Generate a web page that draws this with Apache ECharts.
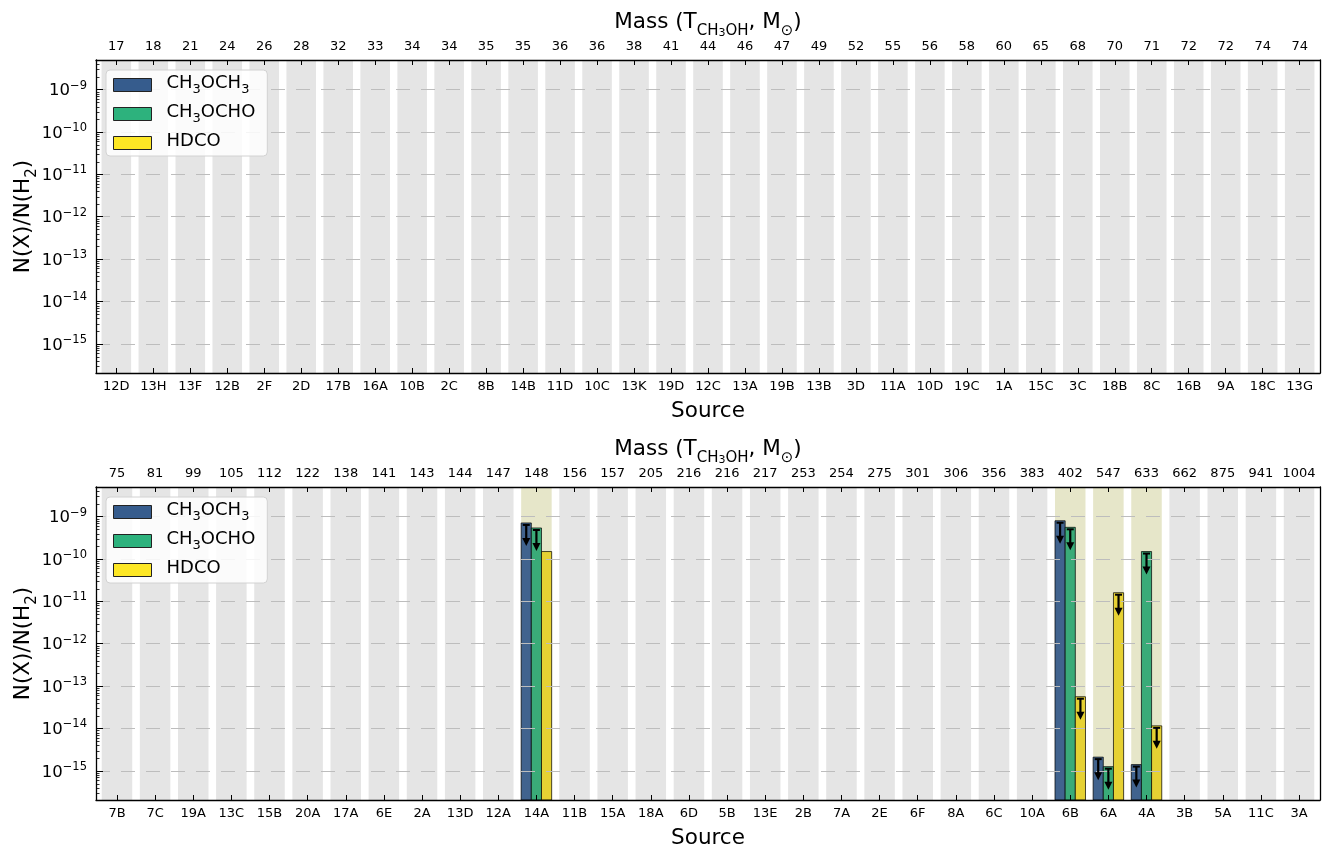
<!DOCTYPE html>
<html><head><meta charset="utf-8">
<script src="https://cdn.jsdelivr.net/npm/echarts@6/dist/echarts.min.js"></script>
<style>html,body{margin:0;padding:0;background:#fff}#c{width:1326px;height:848px}</style>
</head><body><div id="c"></div>
<script>
// ---------- data ----------
const sourcesTop = ['12D','13H','13F','12B','2F','2D','17B','16A','10B','2C','8B','14B','11D','10C','13K','19D','12C','13A','19B','13B','3D','11A','10D','19C','1A','15C','3C','18B','8C','16B','9A','18C','13G'];
const massTop = [17,18,21,24,26,28,32,33,34,34,35,35,36,36,38,41,44,46,47,49,52,55,56,58,60,65,68,70,71,72,72,74,74];
const sourcesBottom = ['7B','7C','19A','13C','15B','20A','17A','6E','2A','13D','12A','14A','11B','15A','18A','6D','5B','13E','2B','7A','2E','6F','8A','6C','10A','6B','6A','4A','3B','5A','11C','3A'];
const massBottom = [75,81,99,105,112,122,138,141,143,144,147,148,156,157,205,216,216,217,253,254,275,301,306,356,383,402,547,633,662,875,941,1004];

// top panel: no values
const ch3och3Top = [null,null,null,null,null,null,null,null,null,null,null,null,null,null,null,null,null,null,null,null,null,null,null,null,null,null,null,null,null,null,null,null,null];
const ch3ochoTop = [null,null,null,null,null,null,null,null,null,null,null,null,null,null,null,null,null,null,null,null,null,null,null,null,null,null,null,null,null,null,null,null,null];
const hdcoTop    = [null,null,null,null,null,null,null,null,null,null,null,null,null,null,null,null,null,null,null,null,null,null,null,null,null,null,null,null,null,null,null,null,null];

// bottom panel (N(X)/N(H2))
const ch3och3Bottom = [null,null,null,null,null,null,null,null,null,null,null,7.1e-10,null,null,null,null,null,null,null,null,null,null,null,null,null,8.0e-10,2.1e-15,1.4e-15,null,null,null,null];
const ch3ochoBottom = [null,null,null,null,null,null,null,null,null,null,null,5.4e-10,null,null,null,null,null,null,null,null,null,null,null,null,null,5.6e-10,1.25e-15,1.5e-10,null,null,null,null];
const hdcoBottom    = [null,null,null,null,null,null,null,null,null,null,null,1.5e-10,null,null,null,null,null,null,null,null,null,null,null,null,null,5.6e-14,1.6e-11,1.15e-14,null,null,null,null];
// upper limits (1 = upper limit arrow)
const ch3och3UpperBottom = [0,0,0,0,0,0,0,0,0,0,0,1,0,0,0,0,0,0,0,0,0,0,0,0,0,1,1,1,0,0,0,0];
const ch3ochoUpperBottom = [0,0,0,0,0,0,0,0,0,0,0,1,0,0,0,0,0,0,0,0,0,0,0,0,0,1,1,1,0,0,0,0];
const hdcoUpperBottom    = [0,0,0,0,0,0,0,0,0,0,0,0,0,0,0,0,0,0,0,0,0,0,0,0,0,1,1,1,0,0,0,0];

const speciesNames = ['CH3OCH3','CH3OCHO','HDCO'];
const yTickExponents = [-15,-14,-13,-12,-11,-10,-9];

// ---------- style ----------
const FONT = 'DejaVu Sans';
const legendColors = ['#365c8d','#2db27d','#fde725'];
const barColors = ['#41638e','#3aab78','#e6d133'];
const Y_MIN = -15.69, Y_MAX = -8.30;

const chart = echarts.init(document.getElementById('c'), null, {renderer:'canvas'});

const panels = [
  {names: sourcesTop, mass: massTop, vals:[ch3och3Top, ch3ochoTop, hdcoTop], up:[null,null,null], top:60},
  {names: sourcesBottom, mass: massBottom, vals:[ch3och3Bottom, ch3ochoBottom, hdcoBottom], up:[ch3och3UpperBottom, ch3ochoUpperBottom, hdcoUpperBottom], top:487}
];

function isInt(v){ return Math.abs(v - Math.round(v)) < 1e-6; }

const grids = [], xAxes = [], yAxes = [], series = [], legends = [];

const legendRich = {
  'CH3OCH3': '{g| }{n|CH}{s|3}{n|OCH}{s|3}',
  'CH3OCHO': '{g| }{n|CH}{s|3}{n|OCHO}',
  'HDCO': '{g| }{n|HDCO}'
};

panels.forEach((p, g) => {
  const n = p.names.length;
  grids.push({left:96, top:p.top, width:1224, height:313, containLabel:false, outerBoundsMode:'none'});
  const xmin = -0.55, xmax = n - 1 + 0.55;
  xAxes.push({
    type:'value', gridIndex:g, position:'bottom', min:xmin, max:xmax,
    splitNumber:n, minInterval:1, maxInterval:1, z:3,
    axisLine:{show:true, onZero:false, lineStyle:{color:'#000', width:1.3}},
    axisTick:{show:true, inside:true, length:5, lineStyle:{color:'#000', width:1}},
    axisLabel:{color:'#000', fontFamily:FONT, fontSize:13, margin:7, showMinLabel:true, showMaxLabel:true,
      formatter:(v)=> (isInt(v) && v>=0 && v<n) ? p.names[Math.round(v)] : ''},
    splitLine:{show:false},
    name:'Source', nameLocation:'middle', nameGap:27,
    nameTextStyle:{color:'#000', fontFamily:FONT, fontSize:21.5}
  });
  xAxes.push({
    type:'value', gridIndex:g, position:'top', min:xmin, max:xmax,
    splitNumber:n, minInterval:1, maxInterval:1, z:3,
    axisLine:{show:true, onZero:false, lineStyle:{color:'#000', width:1.3}},
    axisTick:{show:true, inside:true, length:5, lineStyle:{color:'#000', width:1}},
    axisLabel:{color:'#000', fontFamily:FONT, fontSize:13, margin:7,
      formatter:(v)=> (isInt(v) && v>=0 && v<n) ? String(p.mass[Math.round(v)]) : ''},
    splitLine:{show:false},
    name:'{t|Mass (T}{s|CH}{ss|3}{s|OH}{t|, M}{s|⊙}{t|)}', nameLocation:'middle', nameGap:21,
    nameTextStyle:{color:'#000', fontFamily:FONT, fontSize:21.5,
      rich:{
        t:{fontFamily:FONT, fontSize:21.5, lineHeight:28, verticalAlign:'top', color:'#000'},
        s:{fontFamily:FONT, fontSize:15, lineHeight:10, verticalAlign:'bottom', color:'#000'},
        ss:{fontFamily:FONT, fontSize:11, lineHeight:1, verticalAlign:'bottom', color:'#000'}
      }}
  });
  yAxes.push({
    type:'value', gridIndex:g, position:'left', min:Y_MIN, max:Y_MAX,
    splitNumber:7, minInterval:1, maxInterval:1, z:3,
    axisLine:{show:true, onZero:false, lineStyle:{color:'#000', width:1.3}},
    axisTick:{show:true, inside:true, length:7, lineStyle:{color:'#000', width:1}},
    axisLabel:{margin:9, color:'#000',
      formatter:(v)=> (isInt(v) && yTickExponents.indexOf(Math.round(v))>=0) ? '{b|10}{p|−'+(-Math.round(v))+'}' : '',
      rich:{
        b:{fontFamily:FONT, fontSize:16.5, lineHeight:20, verticalAlign:'bottom', color:'#000'},
        p:{fontFamily:FONT, fontSize:11.5, lineHeight:9, verticalAlign:'top', color:'#000'}
      }},
    splitLine:{show:true, showMinLine:false, showMaxLine:false, lineStyle:{color:'#bdbdbd', width:1, type:[14,11]}},
    name:'{t|N(X)/N(H}{s|2}{t|)}', nameLocation:'middle', nameGap:56, nameMoveOverlap:false,
    nameTextStyle:{color:'#000', fontFamily:FONT, fontSize:21.5,
      rich:{
        t:{fontFamily:FONT, fontSize:21.5, lineHeight:28, verticalAlign:'top', color:'#000'},
        s:{fontFamily:FONT, fontSize:15, lineHeight:10, verticalAlign:'bottom', color:'#000'}
      }}
  });
  yAxes.push({
    type:'value', gridIndex:g, position:'right', min:Y_MIN, max:Y_MAX, z:3,
    axisLine:{show:true, onZero:false, lineStyle:{color:'#000', width:1.3}},
    axisTick:{show:false}, axisLabel:{show:false}, splitLine:{show:false}
  });
  const xi = 2*g, yi = 2*g;

  // background bands
  const bandData = p.names.map((_, i) => [i, (p.vals[0][i]!=null || p.vals[1][i]!=null || p.vals[2][i]!=null) ? 1 : 0]);
  series.push({
    type:'custom', name:'bands'+g, xAxisIndex:xi, yAxisIndex:yi, z:1, silent:true,
    data: bandData,
    renderItem:(params, api) => {
      const cs = params.coordSys;
      const cx = api.coord([api.value(0), -12])[0];
      const w = api.size([0.8, 0])[0];
      return {type:'rect', shape:{x:cx - w/2, y:cs.y, width:w, height:cs.height},
        style:{fill: api.value(1) ? '#e6e6c9' : '#e5e5e5'}};
    }
  });

  // bars
  p.vals.forEach((vals, k) => {
    const data = [];
    vals.forEach((v, i) => { if (v != null) data.push([i, Math.log10(v)]); });
    series.push({
      type:'custom', name:speciesNames[k], xAxisIndex:xi, yAxisIndex:yi, z:2,
      itemStyle:{color:legendColors[k]},
      data: data,
      renderItem:(params, api) => {
        const cs = params.coordSys;
        const c = api.coord([api.value(0), api.value(1)]);
        const bw = api.size([0.8/3, 0])[0];
        const x = c[0] + (k-1)*bw - bw/2;
        const bottom = cs.y + cs.height;
        return {type:'rect', shape:{x:x, y:c[1], width:bw, height:bottom - c[1]},
          style:{fill:barColors[k], stroke:'rgba(0,0,0,0.7)', lineWidth:1}};
      }
    });
  });

  // upper-limit arrows
  const arrowData = [];
  p.vals.forEach((vals, k) => {
    if (!p.up[k]) return;
    vals.forEach((v, i) => { if (v != null && p.up[k][i]) arrowData.push([i, Math.log10(v), k]); });
  });
  series.push({
    type:'custom', name:'arrows'+g, xAxisIndex:xi, yAxisIndex:yi, z:4, silent:true,
    data: arrowData,
    renderItem:(params, api) => {
      const k = api.value(2);
      const c = api.coord([api.value(0), api.value(1)]);
      const bw = api.size([0.8/3, 0])[0];
      const x = c[0] + (k-1)*bw;
      const y0 = c[1] + 2;
      return {type:'group', children:[
        {type:'line', shape:{x1:x-3.5, y1:y0, x2:x+3.5, y2:y0}, style:{stroke:'#000', lineWidth:2}},
        {type:'line', shape:{x1:x, y1:y0, x2:x, y2:y0+15}, style:{stroke:'#000', lineWidth:2.2}},
        {type:'polygon', shape:{points:[[x-4, y0+13],[x+4, y0+13],[x, y0+21]]}, style:{fill:'#000'}}
      ]};
    }
  });

  // log minor ticks on the left axis
  const minor = [];
  for (let d = -16; d <= -9; d++) {
    for (let m = 2; m <= 9; m++) {
      const lv = d + Math.log10(m);
      if (lv > Y_MIN && lv < Y_MAX) minor.push([0, lv]);
    }
  }
  series.push({
    type:'custom', name:'minor'+g, xAxisIndex:xi, yAxisIndex:yi, z:4, silent:true,
    data: minor,
    renderItem:(params, api) => {
      const cs = params.coordSys;
      const y = Math.round(api.coord([0, api.value(1)])[1]) + 0.5;
      return {type:'line', shape:{x1:cs.x, y1:y, x2:cs.x + 3.5, y2:y}, style:{stroke:'#000', lineWidth:0.8}};
    }
  });

  legends.push({
    left:106, top:p.top + 10, orient:'vertical', selectedMode:false, z:6,
    data: speciesNames.map((nm, k) => ({name:nm, icon:'rect',
      itemStyle:{color:legendColors[k], borderColor:'#222', borderWidth:1}})),
    formatter:(nm) => legendRich[nm],
    itemWidth:38, itemHeight:13, itemGap:7,
    padding:[4,12,5,7],
    backgroundColor:'rgba(255,255,255,0.85)', borderColor:'#d2d2d2', borderWidth:1, borderRadius:4,
    textStyle:{fontFamily:FONT, fontSize:18, color:'#000',
      rich:{
        g:{width:10, fontSize:16},
        n:{fontFamily:FONT, fontSize:18, lineHeight:22, verticalAlign:'top', color:'#000'},
        s:{fontFamily:FONT, fontSize:13, lineHeight:6, verticalAlign:'bottom', color:'#000'}
      }}
  });
});

chart.setOption({
  animation:false,
  backgroundColor:'#fff',
  grid: grids, xAxis: xAxes, yAxis: yAxes, legend: legends, series: series
});
</script>
</body></html>
